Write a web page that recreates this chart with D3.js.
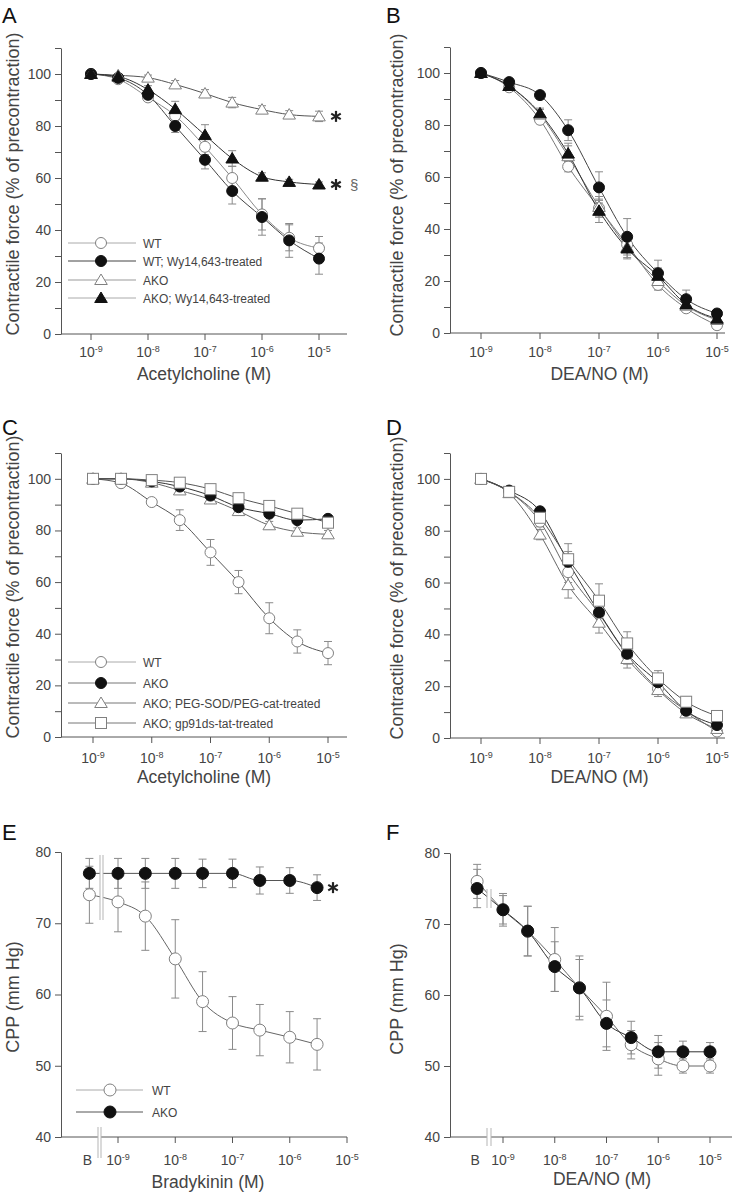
<!DOCTYPE html>
<html>
<head>
<meta charset="utf-8">
<script src="https://cdn.jsdelivr.net/npm/d3@7"></script>
<style>
  body { margin: 0; background: #fff; }
  text { font-family: "Liberation Sans", Arial, sans-serif; }
</style>
</head>
<body>
<div id="chart"></div>
<script>
// ---- data ----
var concAch = [1e-9, 3e-9, 1e-8, 3e-8, 1e-7, 3e-7, 1e-6, 3e-6, 1e-5];
var concDea = [1e-9, 3e-9, 1e-8, 3e-8, 1e-7, 3e-7, 1e-6, 3e-6, 1e-5];
var concBrady = ["B", 1e-9, 3e-9, 1e-8, 3e-8, 1e-7, 3e-7, 1e-6, 3e-6];
var concDeaCpp = ["B", 1e-9, 3e-9, 1e-8, 3e-8, 1e-7, 3e-7, 1e-6, 3e-6, 1e-5];
var xTickExps = [-9, -8, -7, -6, -5];

// panel A
var aWT       = [100, 98, 91, 84, 72, 60, 46, 37, 33];
var aWTErr    = [0, 1, 1, 2, 3, 4.5, 6, 5, 4.5];
var aWTWy     = [100, 98.5, 92, 80, 67, 55, 45, 36, 29];
var aWTWyErr  = [0, 1, 1.5, 2.5, 3.5, 5, 7, 6.5, 6];
var aAKO      = [100, 99.5, 98.6, 96, 92.5, 89, 86.3, 84.4, 83.7];
var aAKOErr   = [0, 0.5, 1, 1.5, 1.5, 2, 1.5, 1.5, 2];
var aAKOWy    = [100, 99, 94, 86.5, 76.5, 67.5, 60.5, 58.5, 57.5];
var aAKOWyErr = [0, 1, 1.5, 3, 4, 3, 1.5, 1, 1];

// panel B
var bWT       = [100, 94.5, 82, 64, 48, 34, 18.5, 9.5, 3];
var bWTErr    = [0, 1, 1.5, 2, 3, 3, 2, 1.5, 1.5];
var bWTWy     = [100, 96.5, 91.5, 78, 56, 37, 23, 13, 7.5];
var bWTWyErr  = [0, 1, 1.5, 4, 6, 7, 5, 3.5, 1.5];
var bAKO      = [100, 95, 84, 68, 48.5, 33, 20, 10.5, 5];
var bAKOErr   = [0, 1, 2, 4, 4, 4, 3, 2, 1.5];
var bAKOWy    = [100, 95, 84.5, 69, 47, 32.5, 22, 11, 5.5];
var bAKOWyErr = [0, 1, 2, 4, 4.5, 4, 3, 2, 1.5];

// panel C
var cWT      = [100, 98.3, 91, 84, 71.5, 60, 46, 37, 32.5];
var cWTErr   = [0, 0.5, 1, 4, 5, 4.5, 6, 4.5, 4.5];
var cAKO     = [100, 100, 99, 97, 93.5, 89, 86.5, 84, 84.5];
var cAKOErr  = [0, 0.5, 0.5, 1, 1, 1, 1, 1, 1];
var cPEG     = [100, 100, 98.5, 95.5, 92, 87.5, 82, 79.5, 78.5];
var cPEGErr  = [0, 0.5, 1, 1.5, 1.5, 1.5, 1.5, 1.5, 1.5];
var cGp91    = [100, 100, 99.5, 98.5, 96, 92.5, 89.5, 86.5, 83];
var cGp91Err = [0, 0.5, 0.5, 1, 1, 1, 1, 1, 1];

// panel D
var dWT      = [100, 95, 83.5, 64, 48, 32, 19, 10.5, 2.5];
var dWTErr   = [0, 1, 2, 4, 4, 3, 2, 1.5, 1];
var dAKO     = [100, 95.5, 87.5, 68, 48.5, 32.5, 21.5, 10.5, 5];
var dAKOErr  = [0, 1, 1.5, 4, 5, 4, 3, 2, 1];
var dPEG     = [100, 94.5, 78.5, 59, 44.5, 30.5, 18.5, 9.5, 3.5];
var dPEGErr  = [0, 1, 2, 5, 4, 3.5, 2.5, 1.5, 1];
var dGp91    = [100, 95, 85, 69, 53, 36.5, 23, 14, 8.5];
var dGp91Err = [0, 1, 2, 6, 6.5, 4.5, 3, 2, 1.5];

// panel E
var eWT     = [74, 73, 71, 65, 59, 56, 55, 54, 53];
var eWTErr  = [4, 4.2, 4.8, 5.5, 4.2, 3.7, 3.6, 3.6, 3.6];
var eAKO    = [77, 77, 77, 77, 77, 77, 76, 76, 75];
var eAKOErr = [2.1, 2.1, 2.1, 2.1, 2, 2, 1.9, 1.8, 1.8];

// panel F
var fWT     = [76, 72, 69, 65, 61, 57, 53, 51, 50, 50];
var fWTErr  = [2.4, 2, 3.5, 4.5, 4, 4.8, 2, 2.3, 1, 1];
var fAKO    = [75, 72, 69, 64, 61, 56, 54, 52, 52, 52];
var fAKOErr = [2.7, 2.3, 3.5, 3.5, 4.5, 3.3, 2.3, 2.3, 1.5, 1.3];

var legendA = ["WT", "WT; Wy14,643-treated", "AKO", "AKO; Wy14,643-treated"];
var legendC = ["WT", "AKO", "AKO; PEG-SOD/PEG-cat-treated", "AKO; gp91ds-tat-treated"];
var legendE = ["WT", "AKO"];

var baselineConc = Math.pow(10, -9.5); // where "B" sits on the log axis

var svg = d3.select("#chart").append("svg")
  .attr("width", 738)
  .attr("height", 1194);

var openStroke = "#808080", axisColor = "#555", textColor = "#444", errColor = "#8a8a8a";

function drawMarker(g, kind, filled, cx, cy, size) {
  var fill = filled ? "#111" : "#fff";
  var stroke = filled ? "#111" : openStroke;
  var s = size || 5.5;
  if (kind === "circle") {
    g.append("circle").attr("cx", cx).attr("cy", cy).attr("r", s)
      .attr("fill", fill).attr("stroke", stroke).attr("stroke-width", 1);
  } else if (kind === "tri") {
    var pts = [[cx, cy - s - 0.5], [cx + s + 0.8, cy + s - 1], [cx - s - 0.8, cy + s - 1]];
    g.append("path").attr("d", "M" + pts.join("L") + "Z")
      .attr("fill", fill).attr("stroke", stroke).attr("stroke-width", 1);
  } else {
    g.append("rect").attr("x", cx - s).attr("y", cy - s).attr("width", 2 * s).attr("height", 2 * s)
      .attr("fill", fill).attr("stroke", stroke).attr("stroke-width", 1);
  }
}

function drawStar(g, cx, cy) {
  [90, 30, 150].forEach(function(a) {
    var r = 5.5, t = a * Math.PI / 180;
    g.append("line")
      .attr("x1", cx - r * Math.cos(t)).attr("y1", cy - r * Math.sin(t))
      .attr("x2", cx + r * Math.cos(t)).attr("y2", cy + r * Math.sin(t))
      .attr("stroke", "#222").attr("stroke-width", 2.2);
  });
}

function powLabel(sel, exp) {
  sel.append("tspan").text("10");
  sel.append("tspan").attr("dy", -5).attr("font-size", 9).text("-" + Math.abs(exp));
}

function drawPanel(p) {
  var g = svg.append("g");
  var y = d3.scaleLinear().domain(p.yDomain).range([p.yBottom, p.yTop]);
  var x = d3.scaleLog().domain([1e-9, 1e-5]).range([p.x9, p.x5]);
  var xpos = function(c) { return c === "B" ? x(baselineConc) : x(c); };

  // panel letter
  g.append("text").attr("x", p.letterX).attr("y", p.letterY)
    .attr("font-size", 22).attr("fill", "#111").text(p.letter);

  // y axis
  var yAxis = g.append("g").attr("transform", "translate(" + p.left + ",0)")
    .call(d3.axisLeft(y).tickValues(p.yTicks).tickSize(6).tickPadding(4).tickSizeOuter(0)
      .tickFormat(function(d) { return p.yLabels.indexOf(d) >= 0 ? d : ""; }));
  yAxis.select(".domain").attr("stroke", axisColor);
  yAxis.selectAll(".tick line").attr("stroke", axisColor);
  yAxis.selectAll(".tick text").attr("font-size", 14).attr("fill", textColor)
    .attr("font-family", "Liberation Sans, Arial, sans-serif");

  // x axis
  var yb = p.yBottom;
  g.append("line").attr("x1", p.left).attr("x2", p.right).attr("y1", yb).attr("y2", yb)
    .attr("stroke", axisColor);
  xTickExps.forEach(function(e) {
    var xv = x(Math.pow(10, e));
    g.append("line").attr("x1", xv).attr("x2", xv).attr("y1", yb).attr("y2", yb + 6)
      .attr("stroke", axisColor);
    var t = g.append("text").attr("x", xv).attr("y", p.xLabelY)
      .attr("text-anchor", "middle").attr("font-size", 14).attr("fill", textColor);
    powLabel(t, e);
  });
  if (p.hasBaseline) {
    g.append("text").attr("x", x(baselineConc) - 2).attr("y", p.xLabelY)
      .attr("text-anchor", "middle").attr("font-size", 14).attr("fill", textColor).text("B");
  }

  // axis titles
  g.append("text").attr("x", (p.left + p.right) / 2 + (p.xTitleShift || 0)).attr("y", p.xTitleY)
    .attr("text-anchor", "middle").attr("font-size", 17.5).attr("fill", textColor).text(p.xTitle);
  g.append("text").attr("transform", "translate(" + p.yTitleX + "," + p.yTitleY + ") rotate(-90)")
    .attr("text-anchor", "middle").attr("font-size", 18).attr("fill", textColor).text(p.yTitle);

  var line = d3.line()
    .x(function(d) { return xpos(d.c); })
    .y(function(d) { return y(d.v); })
    .curve(d3.curveMonotoneX);

  var rows = p.series.map(function(s) {
    return p.conc.map(function(c, i) { return { c: c, v: s.vals[i], e: s.err[i] }; });
  });

  // error bars
  p.series.forEach(function(s, k) {
    rows[k].forEach(function(d) {
      if (!d.e) return;
      var cx = xpos(d.c);
      [d.v + d.e, d.v - d.e].forEach(function(v) {
        g.append("line").attr("x1", cx).attr("x2", cx).attr("y1", y(d.v)).attr("y2", y(v))
          .attr("stroke", errColor).attr("stroke-width", 1);
        g.append("line").attr("x1", cx - 4).attr("x2", cx + 4).attr("y1", y(v)).attr("y2", y(v))
          .attr("stroke", errColor).attr("stroke-width", 1);
      });
    });
  });

  // fitted curves
  p.series.forEach(function(s, k) {
    g.append("path").datum(rows[k]).attr("d", line)
      .attr("fill", "none").attr("stroke", s.line).attr("stroke-width", 1);
  });

  // axis breaks
  if (p.breaks) {
    p.breaks.forEach(function(b) {
      g.append("rect").attr("x", b.x).attr("y", b.y1).attr("width", b.w).attr("height", b.y2 - b.y1)
        .attr("fill", "#fff");
      [b.x, b.x + b.w].forEach(function(bx) {
        g.append("line").attr("x1", bx).attr("x2", bx).attr("y1", b.y1).attr("y2", b.y2)
          .attr("stroke", "#b5b5b5").attr("stroke-width", 1);
      });
    });
  }

  // markers
  p.series.forEach(function(s, k) {
    rows[k].forEach(function(d) {
      drawMarker(g, s.mark, s.filled, xpos(d.c), y(d.v), p.markerSize);
    });
  });

  // significance marks
  (p.stars || []).forEach(function(st) {
    drawStar(g, st.x, y(st.v));
    if (st.extra) {
      g.append("text").attr("x", st.x + 14).attr("y", y(st.v) + 5)
        .attr("font-size", 15).attr("fill", "#666").text(st.extra);
    }
  });

  // legend
  if (p.legend) {
    var L = p.legend;
    L.labels.forEach(function(lab, i) {
      var s = p.series[L.order[i]];
      var ly = L.rows[i];
      g.append("line").attr("x1", L.x0).attr("x2", L.x1).attr("y1", ly).attr("y2", ly)
        .attr("stroke", s.legendLine || s.line).attr("stroke-width", 1);
      drawMarker(g, s.mark, s.filled, L.xm, ly, p.markerSize);
      g.append("text").attr("x", L.xt).attr("y", ly + 4.5).attr("font-size", 12)
        .attr("fill", textColor).text(lab);
    });
  }
}

var pctTicks = d3.range(0, 111, 10);
var pctLabels = [0, 20, 40, 60, 80, 100];
var pctTitle = "Contractile force (% of precontraction)";

drawPanel({
  letter: "A", letterX: 2, letterY: 23,
  left: 61, right: 347, x9: 91, x5: 319, yBottom: 334, yTop: 48,
  yDomain: [0, 110], yTicks: pctTicks, yLabels: pctLabels,
  xLabelY: 357, xTitle: "Acetylcholine (M)", xTitleY: 380, xTitleShift: 0,
  yTitle: pctTitle, yTitleX: 19, yTitleY: 184,
  conc: concAch,
  series: [
    { vals: aWT, err: aWTErr, mark: "circle", filled: false, line: "#8a8a8a", legendLine: "#aaa" },
    { vals: aWTWy, err: aWTWyErr, mark: "circle", filled: true, line: "#444" },
    { vals: aAKO, err: aAKOErr, mark: "tri", filled: false, line: "#555", legendLine: "#999" },
    { vals: aAKOWy, err: aAKOWyErr, mark: "tri", filled: true, line: "#333", legendLine: "#aaa" }
  ],
  stars: [{ x: 336, v: 83.7 }, { x: 336, v: 57.5, extra: "§" }],
  legend: { labels: legendA, order: [0, 1, 2, 3], rows: [243, 261, 280, 298], x0: 68, x1: 136, xm: 101, xt: 143 }
});

drawPanel({
  letter: "B", letterX: 386, letterY: 23,
  left: 450, right: 725, x9: 481, x5: 717, yBottom: 333, yTop: 47,
  yDomain: [0, 110], yTicks: pctTicks, yLabels: pctLabels,
  xLabelY: 357, xTitle: "DEA/NO (M)", xTitleY: 380, xTitleShift: 12,
  yTitle: pctTitle, yTitleX: 403, yTitleY: 185,
  conc: concDea,
  series: [
    { vals: bWT, err: bWTErr, mark: "circle", filled: false, line: "#777" },
    { vals: bAKO, err: bAKOErr, mark: "tri", filled: false, line: "#777" },
    { vals: bAKOWy, err: bAKOWyErr, mark: "tri", filled: true, line: "#333" },
    { vals: bWTWy, err: bWTWyErr, mark: "circle", filled: true, line: "#444" }
  ]
});

drawPanel({
  letter: "C", letterX: 2, letterY: 435,
  left: 61, right: 347, x9: 93, x5: 328, yBottom: 737, yTop: 453,
  yDomain: [0, 110], yTicks: pctTicks, yLabels: pctLabels,
  xLabelY: 763, xTitle: "Acetylcholine (M)", xTitleY: 783, xTitleShift: 0,
  yTitle: pctTitle, yTitleX: 19, yTitleY: 587,
  conc: concAch,
  series: [
    { vals: cWT, err: cWTErr, mark: "circle", filled: false, line: "#555", legendLine: "#aaa" },
    { vals: cPEG, err: cPEGErr, mark: "tri", filled: false, line: "#666", legendLine: "#777" },
    { vals: cAKO, err: cAKOErr, mark: "circle", filled: true, line: "#333", legendLine: "#777" },
    { vals: cGp91, err: cGp91Err, mark: "square", filled: false, line: "#555", legendLine: "#777" }
  ],
  legend: { labels: legendC, order: [0, 2, 1, 3], rows: [662, 683, 703, 723], x0: 68, x1: 136, xm: 101, xt: 143 }
});

drawPanel({
  letter: "D", letterX: 386, letterY: 435,
  left: 450, right: 725, x9: 481, x5: 717, yBottom: 738, yTop: 453,
  yDomain: [0, 110], yTicks: pctTicks, yLabels: pctLabels,
  xLabelY: 763, xTitle: "DEA/NO (M)", xTitleY: 783, xTitleShift: 12,
  yTitle: pctTitle, yTitleX: 403, yTitleY: 588,
  conc: concDea,
  series: [
    { vals: dWT, err: dWTErr, mark: "circle", filled: false, line: "#666" },
    { vals: dPEG, err: dPEGErr, mark: "tri", filled: false, line: "#666" },
    { vals: dAKO, err: dAKOErr, mark: "circle", filled: true, line: "#333" },
    { vals: dGp91, err: dGp91Err, mark: "square", filled: false, line: "#555" }
  ]
});

drawPanel({
  letter: "E", letterX: 2, letterY: 840,
  left: 61, right: 347, x9: 118, x5: 347, yBottom: 1137, yTop: 852,
  yDomain: [40, 80], yTicks: [40, 50, 60, 70, 80], yLabels: [40, 50, 60, 70, 80],
  xLabelY: 1165, xTitle: "Bradykinin (M)", xTitleY: 1188, xTitleShift: 4,
  yTitle: "CPP (mm Hg)", yTitleX: 19, yTitleY: 997,
  conc: concBrady, hasBaseline: true, markerSize: 6,
  series: [
    { vals: eWT, err: eWTErr, mark: "circle", filled: false, line: "#666", legendLine: "#aaa" },
    { vals: eAKO, err: eAKOErr, mark: "circle", filled: true, line: "#555" }
  ],
  breaks: [{ x: 98, w: 3, y1: 1127, y2: 1158 }, { x: 100, w: 3, y1: 855, y2: 920 }],
  stars: [{ x: 333, v: 75 }],
  legend: { labels: legendE, order: [0, 1], rows: [1090, 1112], x0: 76, x1: 143, xm: 110, xt: 152 }
});

drawPanel({
  letter: "F", letterX: 386, letterY: 840,
  left: 450, right: 732, x9: 503, x5: 710, yBottom: 1137, yTop: 853,
  yDomain: [40, 80], yTicks: [40, 50, 60, 70, 80], yLabels: [40, 50, 60, 70, 80],
  xLabelY: 1165, xTitle: "DEA/NO (M)", xTitleY: 1185, xTitleShift: 11,
  yTitle: "CPP (mm Hg)", yTitleX: 403, yTitleY: 999,
  conc: concDeaCpp, hasBaseline: true, markerSize: 6,
  series: [
    { vals: fWT, err: fWTErr, mark: "circle", filled: false, line: "#666" },
    { vals: fAKO, err: fAKOErr, mark: "circle", filled: true, line: "#333" }
  ],
  breaks: [{ x: 487, w: 4, y1: 1128, y2: 1146 }, { x: 487, w: 4, y1: 889, y2: 908 }]
});
</script>
</body>
</html>
